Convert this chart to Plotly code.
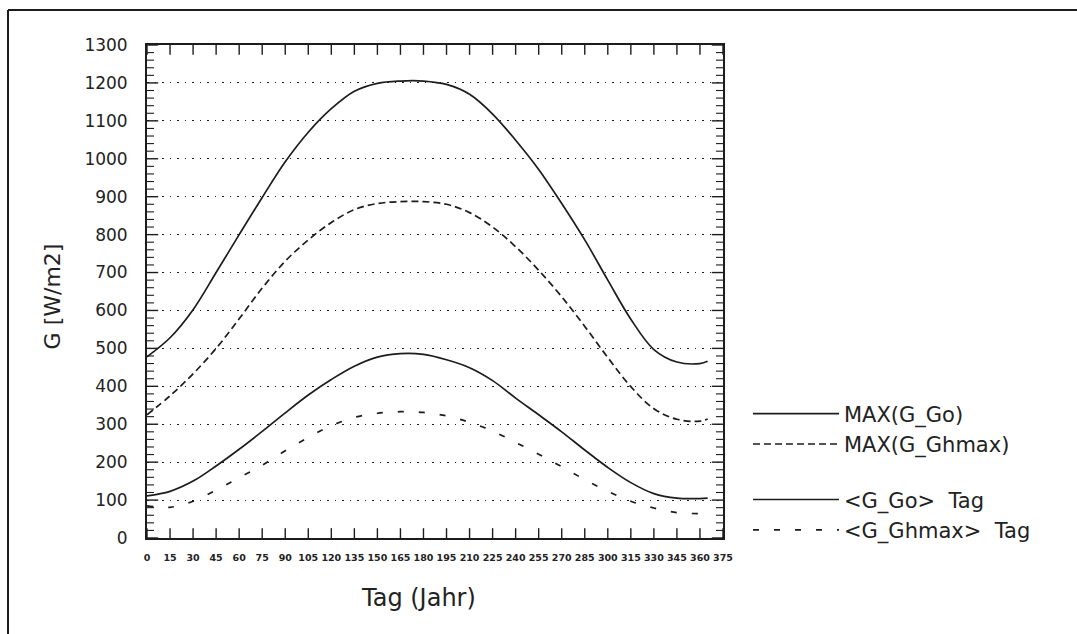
import plotly.graph_objects as go

# Day of year
days = [0, 15, 30, 45, 60, 75, 90, 105, 120, 135, 150, 165, 180, 195,
        210, 225, 240, 255, 270, 285, 300, 315, 330, 345, 360, 365]

max_g_go = [478, 528, 602, 700, 800, 898, 992, 1070, 1132, 1178, 1199, 1205, 1205, 1196,
            1170, 1118, 1049, 972, 882, 786, 680, 577, 497, 464, 460, 466]
max_g_ghmax = [325, 375, 433, 500, 578, 659, 730, 786, 832, 866, 882, 887, 887, 880,
               858, 820, 768, 706, 636, 558, 476, 399, 341, 313, 308, 314]
mean_g_go = [111, 123, 150, 190, 234, 281, 330, 377, 418, 453, 477, 486, 484, 470,
             449, 415, 369, 325, 280, 232, 186, 146, 117, 105, 104, 105]
mean_g_ghmax = [85, 81, 97, 126, 159, 192, 230, 265, 296, 318, 329, 333, 331, 322,
                305, 282, 252, 221, 188, 154, 123, 97, 79, 67, 64, 63]

x_ticks = list(range(0, 376, 15))
y_ticks = list(range(0, 1301, 100))
y_minor = [v for v in range(0, 1301, 20) if v % 100]
X_RANGE = [0, 375]
Y_RANGE = [0, 1300]

INK = "#1c1c1c"
FONT = "DejaVu Sans, Liberation Sans, Arial, sans-serif"

fig = go.Figure()
fig.add_trace(go.Scatter(x=days, y=max_g_go, mode="lines", name="MAX(G_Go)",
                         line=dict(color=INK, width=1.7, shape="spline"), legend="legend"))
fig.add_trace(go.Scatter(x=days, y=max_g_ghmax, mode="lines", name="MAX(G_Ghmax)",
                         line=dict(color=INK, width=1.7, dash="7px,4px", shape="spline"),
                         legend="legend"))
fig.add_trace(go.Scatter(x=days, y=mean_g_go, mode="lines", name="<G_Go>\u00a0 Tag",
                         line=dict(color=INK, width=1.7, shape="spline"), legend="legend2"))
fig.add_trace(go.Scatter(x=days, y=mean_g_ghmax, mode="lines", name="<G_Ghmax>\u00a0 Tag",
                         line=dict(color=INK, width=1.7, dash="6px,15px", shape="spline"),
                         legend="legend2"))


# Inward-pointing tick marks: symbols centred on the frame, half clipped by the plot area
def tick_marks(xs, ys, symbol, size, width):
    return go.Scatter(x=xs, y=ys, mode="markers", showlegend=False, hoverinfo="skip",
                      cliponaxis=True,
                      marker=dict(symbol=symbol, size=size, color=INK,
                                  line=dict(color=INK, width=width)))


fig.add_trace(tick_marks(x_ticks, [Y_RANGE[0]] * len(x_ticks), "line-ns", 14, 1.4))
fig.add_trace(tick_marks(x_ticks, [Y_RANGE[1]] * len(x_ticks), "line-ns", 14, 1.4))
for xe in X_RANGE:
    fig.add_trace(tick_marks([xe] * len(y_ticks), y_ticks, "line-ew", 16, 1.4))
    fig.add_trace(tick_marks([xe] * len(y_minor), y_minor, "line-ew", 10, 1.1))

legend_common = dict(xanchor="left", yanchor="top", x=1.0434,
                     font=dict(size=21, color="#222", family=FONT), itemwidth=86,
                     bgcolor="rgba(0,0,0,0)")

fig.update_layout(
    width=1077, height=634,
    margin=dict(l=147, r=354, t=45, b=96),
    paper_bgcolor="white", plot_bgcolor="white",
    font=dict(family=FONT, color="#222"),
    showlegend=True,
    legend=dict(y=0.293, **legend_common),
    legend2=dict(y=0.119, **legend_common),
    xaxis=dict(range=X_RANGE, tickvals=x_ticks, ticktext=[str(v) for v in x_ticks],
               ticks="", tickangle=0,
               showline=True, linewidth=1.8, linecolor=INK, mirror=True,
               showgrid=False, zeroline=False, ticklabelstandoff=10,
               tickfont=dict(size=9.5, weight="bold", color="#222", family=FONT)),
    yaxis=dict(range=Y_RANGE, tickvals=y_ticks, ticks="",
               showline=True, linewidth=1.8, linecolor=INK, mirror=True,
               showgrid=True, gridcolor=INK, gridwidth=1.3, griddash="1.5px,6px",
               zeroline=False, ticklabelstandoff=14,
               tickfont=dict(size=17, color="#222", family=FONT)),
    annotations=[
        dict(text="Tag (Jahr)", xref="paper", yref="paper", x=0.472, y=-0.122,
             xanchor="center", yanchor="middle", showarrow=False,
             font=dict(size=24, color="#222", family=FONT)),
        dict(text="G [W/m2]", xref="paper", yref="paper", x=-0.165, y=0.49,
             xanchor="center", yanchor="middle", textangle=-90, showarrow=False,
             font=dict(size=22, color="#222", family=FONT)),
    ],
    shapes=[
        dict(type="line", xref="paper", yref="paper", x0=-0.2413, x1=1.62,
             y0=1.071, y1=1.071, line=dict(color=INK, width=2)),
        dict(type="line", xref="paper", yref="paper", x0=-0.2413, x1=-0.2413,
             y0=1.071, y1=-0.2, line=dict(color=INK, width=2)),
    ],
)

fig.write_html("out.html")
